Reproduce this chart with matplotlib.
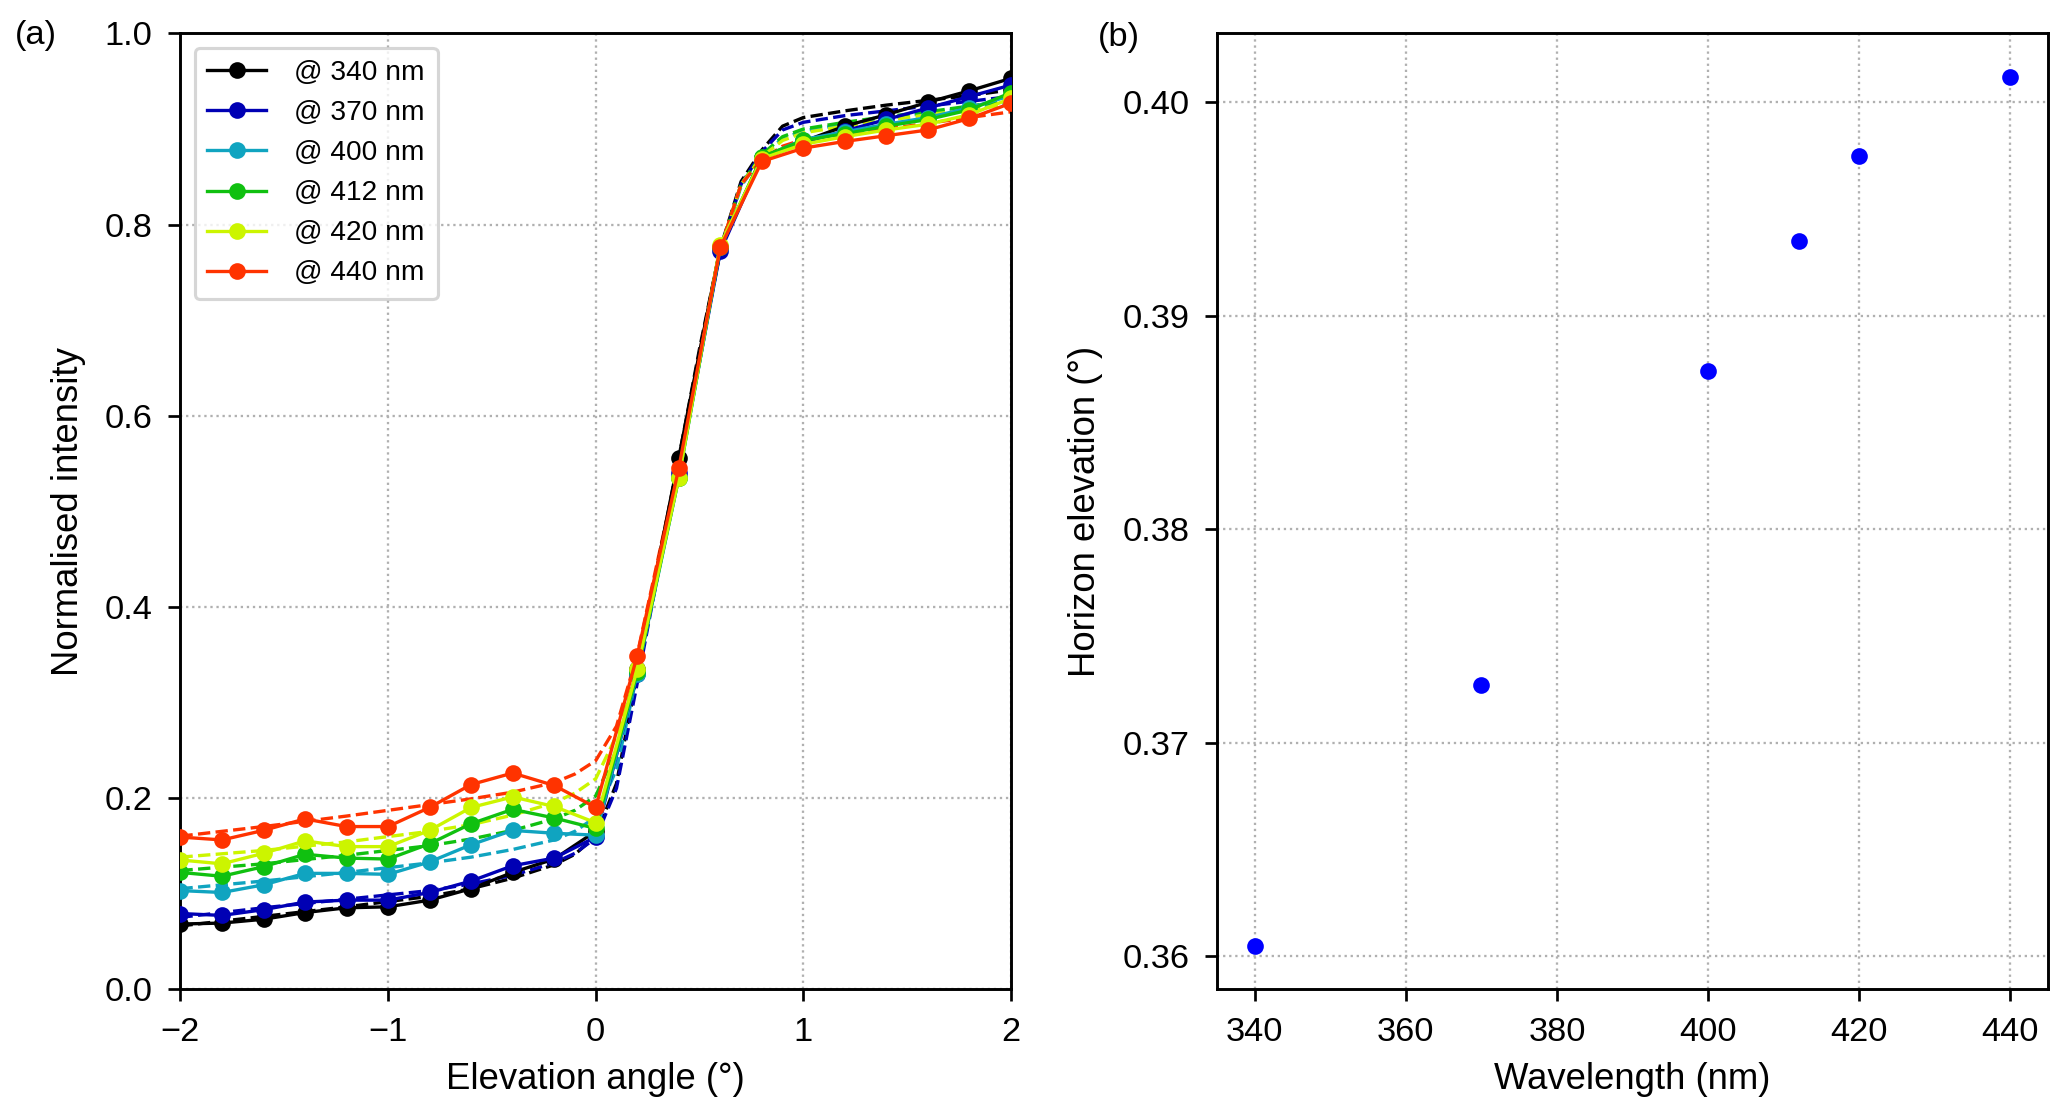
import matplotlib
matplotlib.use("Agg")
import matplotlib.pyplot as plt
import numpy as np

plt.rcParams['font.family'] = ['Liberation Sans', 'DejaVu Sans']

# ---------------- data: panel (a) ----------------
elev = [-2.0, -1.8, -1.6, -1.4, -1.2, -1.0, -0.8, -0.6, -0.4, -0.2, 0.0,
        0.2, 0.4, 0.6, 0.8, 1.0, 1.2, 1.4, 1.6, 1.8, 2.0]

labels = ['@ 340 nm', '@ 370 nm', '@ 400 nm', '@ 412 nm', '@ 420 nm', '@ 440 nm']
colors = ['#000000', '#0000b4', '#10a4c0', '#10c010', '#ccf500', '#ff3300']

meas_340 = [0.068, 0.069, 0.073, 0.080, 0.085, 0.086, 0.093, 0.105, 0.122, 0.136, 0.165,
            0.335, 0.556, 0.776, 0.870, 0.887, 0.903, 0.915, 0.928, 0.940, 0.953]
meas_370 = [0.079, 0.077, 0.083, 0.091, 0.093, 0.093, 0.101, 0.113, 0.129, 0.137, 0.159,
            0.330, 0.540, 0.772, 0.870, 0.886, 0.898, 0.910, 0.922, 0.934, 0.946]
meas_400 = [0.103, 0.101, 0.109, 0.121, 0.121, 0.120, 0.133, 0.151, 0.166, 0.163, 0.161,
            0.330, 0.535, 0.776, 0.870, 0.889, 0.897, 0.905, 0.912, 0.922, 0.935]
meas_412 = [0.122, 0.118, 0.128, 0.141, 0.137, 0.136, 0.152, 0.173, 0.188, 0.179, 0.168,
            0.332, 0.535, 0.777, 0.871, 0.888, 0.895, 0.903, 0.910, 0.920, 0.938]
meas_420 = [0.135, 0.131, 0.142, 0.155, 0.149, 0.149, 0.166, 0.190, 0.201, 0.191, 0.174,
            0.335, 0.535, 0.779, 0.869, 0.884, 0.892, 0.899, 0.905, 0.915, 0.932]
meas_440 = [0.159, 0.156, 0.166, 0.178, 0.170, 0.170, 0.190, 0.214, 0.226, 0.213, 0.190,
            0.349, 0.545, 0.776, 0.866, 0.880, 0.887, 0.893, 0.899, 0.911, 0.927]

fit_elev = [-2.0, -1.6, -1.2, -0.8, -0.6, -0.4, -0.2, -0.1, 0.0, 0.1, 0.2, 0.3,
            0.4, 0.5, 0.6, 0.7, 0.8, 0.9, 1.0, 1.2, 1.4, 1.6, 1.8, 2.0]
fit_340 = [0.066, 0.076, 0.086, 0.097, 0.105, 0.116, 0.130, 0.141, 0.160, 0.215, 0.330, 0.445,
           0.555, 0.670, 0.775, 0.845, 0.878, 0.903, 0.912, 0.919, 0.925, 0.930, 0.935, 0.941]
fit_370 = [0.075, 0.085, 0.094, 0.103, 0.110, 0.119, 0.132, 0.142, 0.158, 0.210, 0.320, 0.435,
           0.548, 0.665, 0.772, 0.842, 0.876, 0.899, 0.907, 0.914, 0.919, 0.924, 0.929, 0.934]
fit_400 = [0.105, 0.113, 0.122, 0.132, 0.138, 0.146, 0.156, 0.165, 0.180, 0.230, 0.330, 0.440,
           0.545, 0.660, 0.772, 0.840, 0.872, 0.890, 0.898, 0.905, 0.911, 0.917, 0.922, 0.928]
fit_412 = [0.124, 0.131, 0.140, 0.150, 0.157, 0.166, 0.178, 0.187, 0.202, 0.250, 0.335, 0.440,
           0.545, 0.660, 0.773, 0.842, 0.873, 0.892, 0.900, 0.907, 0.913, 0.918, 0.924, 0.930]
fit_420 = [0.138, 0.145, 0.154, 0.165, 0.172, 0.182, 0.195, 0.205, 0.220, 0.265, 0.340, 0.445,
           0.548, 0.662, 0.774, 0.842, 0.871, 0.888, 0.896, 0.903, 0.909, 0.915, 0.920, 0.926]
fit_440 = [0.160, 0.170, 0.181, 0.193, 0.199, 0.206, 0.216, 0.225, 0.239, 0.275, 0.350, 0.450,
           0.550, 0.665, 0.775, 0.842, 0.868, 0.882, 0.889, 0.895, 0.900, 0.906, 0.912, 0.918]

measured = [meas_340, meas_370, meas_400, meas_412, meas_420, meas_440]
fitted = [fit_340, fit_370, fit_400, fit_412, fit_420, fit_440]

# ---------------- data: panel (b) ----------------
wavelength = [340, 370, 400, 412, 420, 440]
horizon_elev = [0.3605, 0.3727, 0.3874, 0.3935, 0.3975, 0.4012]

# ---------------- figure ----------------
fig = plt.figure(figsize=(2067 / 150, 1115 / 150), dpi=150)
ax1 = fig.add_axes([0.0873, 0.113, 0.4018, 0.857])
ax2 = fig.add_axes([0.5888, 0.113, 0.4020, 0.857])

tick_fs = 16.5
label_fs = 17.5

for ax in (ax1, ax2):
    for s in ax.spines.values():
        s.set_linewidth(1.4)
    ax.tick_params(direction='out', length=5.8, width=1.3, labelsize=tick_fs, pad=7.5)
    ax.grid(True, linestyle=':', color='#b0b0b0', linewidth=1.1)
    ax.set_axisbelow(True)

for y, yf, c, lab in zip(measured, fitted, colors, labels):
    ax1.plot(elev, y, '-', color=c, lw=1.6, marker='o', ms=7, label=lab, zorder=3)
    ax1.plot(fit_elev, yf, '--', color=c, lw=1.6, zorder=2)

ax1.set_xlim(-2, 2)
ax1.set_ylim(0, 1.0)
ax1.set_xticks([-2, -1, 0, 1, 2])
ax1.set_yticks([0.0, 0.2, 0.4, 0.6, 0.8, 1.0])
ax1.set_xlabel('Elevation angle (°)', fontsize=label_fs, labelpad=7)
ax1.set_ylabel('Normalised intensity', fontsize=label_fs, labelpad=9)
leg = ax1.legend(loc='upper left', fontsize=13.5, handlelength=2.1, labelspacing=0.5,
                 borderpad=0.45, handletextpad=1.0, frameon=True, fancybox=True,
                 borderaxespad=0.5)
leg.get_frame().set_edgecolor('#cccccc')
leg.get_frame().set_linewidth(1.5)

ax2.plot(wavelength, horizon_elev, 'o', color='#0000ff', ms=7, zorder=3)
ax2.set_xticks([340, 360, 380, 400, 420, 440])
ax2.set_yticks([0.36, 0.37, 0.38, 0.39, 0.40])
ax2.yaxis.set_major_formatter(matplotlib.ticker.FormatStrFormatter('%.2f'))
ax2.set_xlabel('Wavelength (nm)', fontsize=label_fs, labelpad=7)
ax2.set_ylabel('Horizon elevation (°)', fontsize=label_fs, labelpad=9)

fig.text(0.007, 0.968, '(a)', fontsize=tick_fs, va='center', ha='left')
fig.text(0.531, 0.966, '(b)', fontsize=tick_fs, va='center', ha='left')

fig.savefig('out.png', dpi=150)
